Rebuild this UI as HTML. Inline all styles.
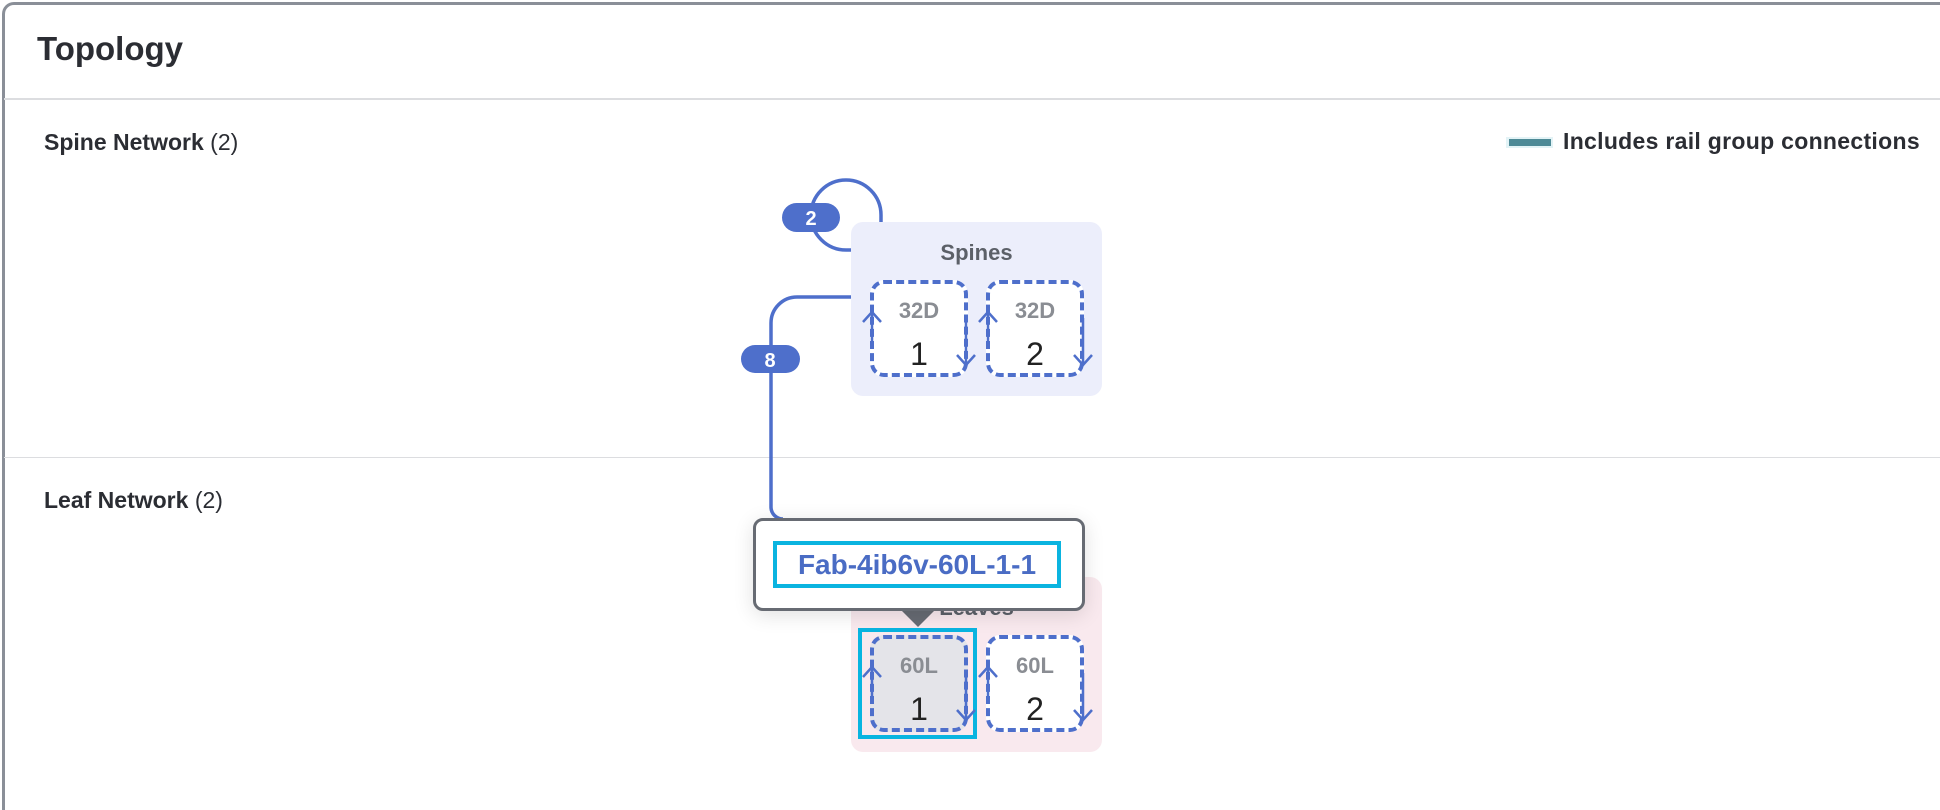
<!DOCTYPE html>
<html style="overflow:hidden;height:810px"><head><style>
body{margin:0;width:1940px;height:810px;background:#fff;font-family:"Liberation Sans",sans-serif;overflow:hidden;position:relative}
.frame{position:absolute;left:2px;top:2px;width:1938px;height:808px;border:3px solid #8a8f98;border-right:none;border-bottom:none;border-radius:12px 0 0 0;box-sizing:border-box}
.abs{position:absolute}
.node{position:absolute;width:98px;height:97px;border:4px dashed #4e6fcb;border-radius:14px;box-sizing:border-box;background:#fff;text-align:center}
.node .t{color:#8a8d93;font-size:22px;font-weight:bold;margin-top:14px}
.node .n{color:#222;font-size:32px;margin-top:12px}
</style></head><body>
<div class="frame"></div>
<div class="abs" style="left:37px;top:30px;font-size:33px;font-weight:bold;color:#2b2d33">Topology</div>
<div class="abs" style="left:4px;top:98px;width:1936px;height:2px;background:#dcdde0"></div>
<div class="abs" style="left:4px;top:457px;width:1936px;height:1px;background:#dcdde0"></div>
<div class="abs" style="left:44px;top:129px;font-size:23px;color:#2b2d33"><b>Spine Network</b> (2)</div>
<div class="abs" style="left:44px;top:487px;font-size:23px;color:#2b2d33"><b>Leaf Network</b> (2)</div>
<div class="abs" style="left:1506px;top:137px;width:47px;height:11px;background:#e3f3f6"></div>
<div class="abs" style="left:1509px;top:139px;width:42px;height:7px;background:#4e8a96"></div>
<div class="abs" style="left:1563px;top:128px;font-size:23px;font-weight:bold;color:#2b2d33;letter-spacing:0.3px">Includes rail group connections</div>

<div class="abs" style="left:851px;top:222px;width:251px;height:174px;background:#eceefb;border-radius:12px"></div>
<div class="abs" style="left:851px;top:240px;width:251px;text-align:center;font-size:22px;font-weight:bold;color:#5c6068">Spines</div>
<div class="abs" style="left:851px;top:577px;width:251px;height:175px;background:#f9e9ee;border-radius:12px"></div>
<div class="abs" style="left:851px;top:595px;width:251px;text-align:center;font-size:22px;font-weight:bold;color:#5c6068">Leaves</div>

<svg class="abs" style="left:0;top:0" width="1940" height="810">
<g fill="none" stroke="#4e6fcb" stroke-width="3.5">
<path d="M881 222 V215 A35 35 0 1 0 846 250 H851"/>
<path d="M851 297 H797 A26 26 0 0 0 771 323 V507 A12 12 0 0 0 783 519"/>
</g>
<rect x="782" y="203" width="58" height="29" rx="14.5" fill="#4e6fcb"/>
<text x="811" y="225" font-size="20" font-weight="bold" fill="#fff" text-anchor="middle" font-family="Liberation Sans">2</text>
<rect x="741" y="345" width="59" height="28" rx="14" fill="#4e6fcb"/>
<text x="770" y="367" font-size="20" font-weight="bold" fill="#fff" text-anchor="middle" font-family="Liberation Sans">8</text>
</svg>

<div class="node" style="left:870px;top:280px"><div class="t">32D</div><div class="n">1</div></div>
<div class="node" style="left:986px;top:280px"><div class="t">32D</div><div class="n">2</div></div>
<div class="node" style="left:870px;top:635px;background:#e4e4e9"><div class="t">60L</div><div class="n">1</div></div>
<div class="node" style="left:986px;top:635px"><div class="t">60L</div><div class="n">2</div></div>
<div class="abs" style="left:858px;top:628px;width:119px;height:111px;border:4px solid #0ab4e0;box-sizing:border-box"></div>

<svg class="abs" style="left:0;top:0" width="1940" height="810">
<g fill="none" stroke="#4e6fcb" stroke-width="2.5">
<path d="M872 345 V312 M863 322 L872 312 L881 322"/>
<path d="M966 318 V365 M957 355 L966 365 L975 355"/>
<path d="M988 345 V312 M979 322 L988 312 L997 322"/>
<path d="M1083 318 V365 M1074 355 L1083 365 L1092 355"/>
<path d="M872 700 V667 M863 677 L872 667 L881 677"/>
<path d="M966 673 V720 M957 710 L966 720 L975 710"/>
<path d="M988 700 V667 M979 677 L988 667 L997 677"/>
<path d="M1083 673 V720 M1074 710 L1083 720 L1092 710"/>
</g>
<polygon points="902,611 934,611 918,627" fill="#676b73"/>
</svg>

<div class="abs" style="left:753px;top:518px;width:332px;height:93px;border:3px solid #676b73;border-radius:10px;background:#fff;box-sizing:border-box;box-shadow:0 4px 20px rgba(0,0,0,0.12)"></div>
<div class="abs" style="left:773px;top:541px;width:288px;height:47px;border:4px solid #0ab4e0;box-sizing:border-box;text-align:center;font-size:28px;font-weight:bold;color:#4a6cc4;line-height:39px">Fab-4ib6v-60L-1-1</div>
</body></html>
